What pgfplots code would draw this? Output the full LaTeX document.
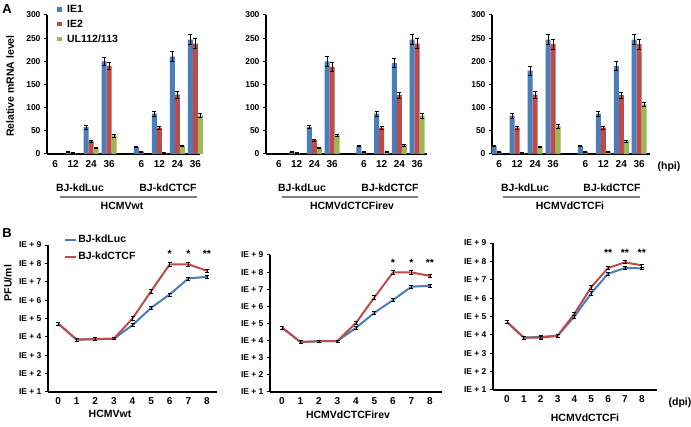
\documentclass[border=0pt]{standalone}
\usepackage{fontspec}
\setmainfont{Liberation Sans}
\usepackage{pgfplots}
\pgfplotsset{compat=1.18}
\usepackage{pgfplotstable}

\definecolor{cA}{RGB}{74,126,187}
\definecolor{cB}{RGB}{190,75,72}
\definecolor{cC}{RGB}{152,185,84}
\definecolor{grp}{RGB}{128,128,128}

% Panel A data: x, IE1, err, IE2, err, UL112/113, err
\pgfplotstableread{
x a ae b be c ce
0 0.6 0.3 0.4 0.2 0.3 0.1
1 5 1.5 2 0.8 1.5 0.5
2 58 4 28 2 13 1.5
3 200 9 190 8 40 3
4.8 15 1.5 5 1 0.5 0.2
5.8 87 5 57 3 3 0.8
6.8 210 11 128 7 18 1.5
7.8 247 11 238 11 83 4
}\Aone
\pgfplotstableread{
x a ae b be c ce
0 0.6 0.3 0.4 0.2 0.3 0.1
1 5 1.5 2 0.8 1.5 0.5
2 58 3 30 2 13 1.5
3 200 10 188 9 40 2
4.8 17 1.5 5 1 0.5 0.2
5.8 87 5 57 3 4 0.8
6.8 196 10 127 7 19 1.5
7.8 247 11 238 11 83 5
}\Atwo
\pgfplotstableread{
x a ae b be c ce
0 17 1.5 5 1 0.5 0.2
1 83 5 57 3 2 0.5
2 180 10 128 7 15 1.5
3 247 11 237 11 60 4
4.8 17 1.5 5 1 0.5 0.2
5.8 87 5 57 3 5 0.8
6.8 190 10 127 7 27 1.5
7.8 247 11 237 11 107 5
}\Athree

% Panel B data: day, log10 titre BJ-kdLuc, err, BJ-kdCTCF, err
\pgfplotstableread{
x l le k ke
0 4.73 0.08 4.73 0.08
1 3.85 0.07 3.85 0.07
2 3.87 0.07 3.88 0.07
3 3.90 0.06 3.90 0.06
4 4.64 0.08 5.00 0.1
5 5.58 0.07 6.49 0.1
6 6.31 0.08 7.95 0.1
7 7.18 0.08 7.95 0.1
8 7.27 0.08 7.60 0.1
}\Bone
\pgfplotstableread{
x l le k ke
0 4.76 0.08 4.76 0.08
1 3.92 0.07 3.92 0.07
2 3.96 0.07 3.96 0.07
3 3.98 0.06 3.98 0.06
4 4.75 0.08 5.04 0.1
5 5.63 0.07 6.53 0.1
6 6.37 0.08 7.98 0.1
7 7.15 0.08 7.98 0.1
8 7.20 0.08 7.78 0.1
}\Btwo
\pgfplotstableread{
x l le k ke
0 4.70 0.08 4.70 0.08
1 3.85 0.07 3.85 0.07
2 3.89 0.07 3.85 0.07
3 3.95 0.06 3.95 0.06
4 5.00 0.08 5.15 0.1
5 6.27 0.1 6.60 0.1
6 7.33 0.08 7.64 0.1
7 7.64 0.08 7.95 0.08
8 7.62 0.08 7.78 0.08
}\Bthree

\pgfplotsset{
  common/.style={
    scale only axis,
    axis x line*=bottom, axis y line*=left,
    axis line style={line width=1.4pt,-},
    tick align=outside,
    major tick length=3pt,
    y tick style={line width=1pt,black},
    x tick style={draw=none},
    /pgf/number format/assume math mode=true,
    yticklabel style={font=\bfseries\fontsize{8.5}{9}\selectfont},
    xticklabel style={font=\bfseries\fontsize{10}{11}\selectfont},
    clip=false,
  },
  barax/.style={common,
    height=139pt, ymin=0, ymax=300, ytick={0,50,...,300},
    ybar=0pt, bar width=5pt,
    xtick={0,1,2,3,4.8,5.8,6.8,7.8},
    xticklabels={6,12,24,36,6,12,24,36},
    anchor=south west,
  },
  lineax/.style={common,
    ymin=1, ymax=9, ytick={1,...,9},
    yticklabels={IE + 1,IE + 2,IE + 3,IE + 4,IE + 5,IE + 6,IE + 7,IE + 8,IE + 9},
    xmin=-0.55, xmax=8.55, xtick={0,...,8},
    xticklabel style={yshift=1pt},
    anchor=south west,
  },
  ebar/.style={error bars/.cd, y dir=both, y explicit,
    error bar style={black, line width=0.7pt},
    error mark options={rotate=90, mark size=2pt, black, line width=0.7pt}},
}
\newcommand{\barset}[1]{%
  \addplot[fill=cA, draw=none, ebar] table[x=x,y=a,y error=ae]{#1};
  \addplot[fill=cB, draw=none, ebar] table[x=x,y=b,y error=be]{#1};
  \addplot[fill=cC, draw=none, ebar] table[x=x,y=c,y error=ce]{#1};
}
\newcommand{\lineset}[1]{%
  \addplot[cA, line width=2pt, mark=none, ebar] table[x=x,y=l,y error=le]{#1};
  \addplot[cB, line width=2pt, mark=none, ebar] table[x=x,y=k,y error=ke]{#1};
}

\begin{document}
\begin{tikzpicture}[every node/.style={font=\bfseries\fontsize{10.5}{12}\selectfont}]
\path[use as bounding box] (0,0) rectangle (691pt,-427pt);

% ---------------- Panel A ----------------
\begin{axis}[barax, at={(47pt,-154pt)}, width=153pt, xmin=-0.45, xmax=8.05,
  legend style={at={(rel axis cs:0.065,1.08)}, anchor=north west, draw=none, fill=none,
    font=\bfseries\fontsize{10.5}{12}\selectfont, row sep=4pt, inner sep=0pt,
    nodes={inner sep=1pt}},
  legend cell align=left,
  legend image code/.code={\fill[#1, draw=none] (0pt,-2.2pt) rectangle (4.4pt,2.2pt);
     \path (0pt,0pt) -- (9pt,0pt);}]
\barset{\Aone}
\legend{IE1,IE2,UL112/113}
\end{axis}
\begin{axis}[barax, at={(266pt,-154pt)}, width=161pt, xmin=-0.73, xmax=8.36]
\barset{\Atwo}
\end{axis}
\begin{axis}[barax, at={(492pt,-154pt)}, width=158pt, xmin=-0.4, xmax=8.4]
\barset{\Athree}
\end{axis}

\node[font=\bfseries\fontsize{13}{14}\selectfont] at (7pt,-9pt) {A};
\node[rotate=90] at (10pt,-86pt) {Relative mRNA level};

\node at (80pt,-188pt) {BJ-kdLuc};
\node at (168pt,-188pt) {BJ-kdCTCF};
\draw[grp, line width=1.2pt] (60pt,-197pt) -- (197pt,-197pt);
\node at (122pt,-206pt) {HCMVwt};

\node at (302pt,-188pt) {BJ-kdLuc};
\node at (390pt,-188pt) {BJ-kdCTCF};
\draw[grp, line width=1.2pt] (282pt,-197pt) -- (418pt,-197pt);
\node at (352pt,-206pt) {HCMVdCTCFirev};

\node at (525pt,-188pt) {BJ-kdLuc};
\node at (612pt,-188pt) {BJ-kdCTCF};
\draw[grp, line width=1.2pt] (503pt,-197pt) -- (640pt,-197pt);
\node at (570pt,-206pt) {HCMVdCTCFi};
\node at (669pt,-167pt) {(hpi)};

% ---------------- Panel B ----------------
\begin{axis}[lineax, at={(48pt,-392pt)}, width=169pt, height=147pt, xmin=-0.54, xmax=8.54,
  legend style={at={(rel axis cs:0.095,1.075)}, anchor=north west, draw=none, fill=none,
    font=\bfseries\fontsize{10.5}{12}\selectfont, row sep=6pt, inner sep=0pt,
    nodes={inner sep=1pt}},
  legend cell align=left,
  legend image code/.code={\draw[#1, line width=2pt] (0pt,0pt) -- (11pt,0pt);}]
\lineset{\Bone}
\legend{BJ-kdLuc,BJ-kdCTCF}
\node at (axis cs:6,8.5) {*};
\node at (axis cs:7,8.5) {*};
\node at (axis cs:8,8.5) {**};
\end{axis}
\begin{axis}[lineax, at={(270pt,-392pt)}, width=172pt, height=137pt, xmin=-0.65, xmax=8.65]
\lineset{\Btwo}
\node at (axis cs:6,8.55) {*};
\node at (axis cs:7,8.55) {*};
\node at (axis cs:8,8.55) {**};
\end{axis}
\begin{axis}[lineax, at={(493pt,-390pt)}, width=164pt, height=147pt, xmin=-0.83, xmax=8.9]
\lineset{\Bthree}
\node at (axis cs:6,8.45) {**};
\node at (axis cs:7,8.45) {**};
\node at (axis cs:8,8.45) {**};
\end{axis}

\node[font=\bfseries\fontsize{13}{14}\selectfont] at (7pt,-233pt) {B};
\node[rotate=90] at (8pt,-283pt) {PFU/ml};
\node at (110pt,-414pt) {HCMVwt};
\node at (348pt,-415pt) {HCMVdCTCFirev};
\node at (585pt,-418pt) {HCMVdCTCFi};
\node at (680pt,-403pt) {(dpi)};
\end{tikzpicture}
\end{document}
